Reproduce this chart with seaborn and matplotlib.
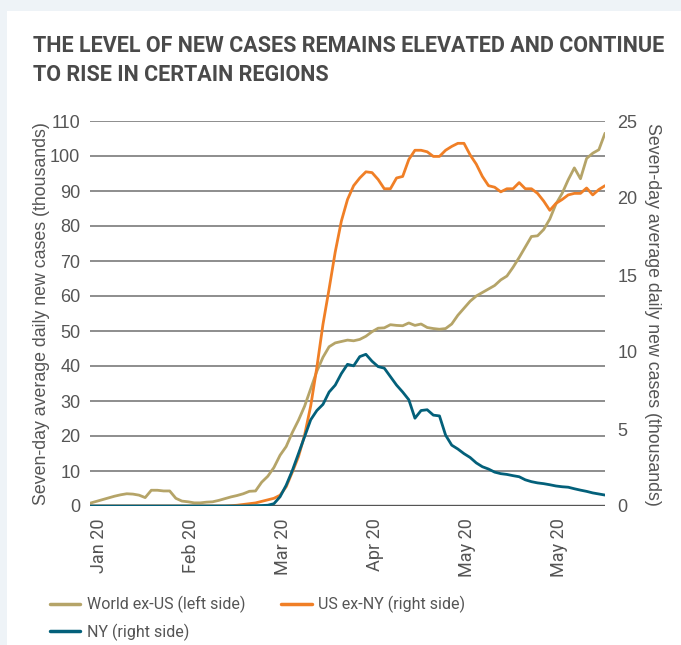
import matplotlib

matplotlib.use("Agg")
import matplotlib.pyplot as plt
import matplotlib.patches as mpatches
from matplotlib.lines import Line2D
import pandas as pd
import seaborn as sns

######Data (every second day)
dates = pd.date_range("2019-12-30", "2020-06-15", freq="2D")

# left axis, thousands
world_ex_us = [
    0.8, 1.3, 1.8, 2.3, 2.8, 3.2, 3.5, 3.4, 3.1, 2.4,
    4.5, 4.5, 4.3, 4.3, 2.2, 1.4, 1.2, 0.9, 0.9, 1.1,
    1.2, 1.6, 2.1, 2.6, 3.0, 3.5, 4.2, 4.3, 6.8, 8.5,
    11.0, 14.5, 17.0, 21.0, 24.5, 28.5, 33.5, 38.5, 42.5, 45.5,
    46.6, 47.0, 47.4, 47.2, 47.6, 48.5, 49.8, 50.8, 50.9, 51.8,
    51.6, 51.5, 52.3, 51.6, 52.0, 51.0, 50.7, 50.5, 50.7, 52.0,
    54.5, 56.5, 58.5, 60.0, 61.0, 62.0, 63.0, 64.6, 65.7, 68.2,
    71.0, 74.0, 77.0, 77.2, 79.0, 82.0, 86.3, 89.3, 93.2, 96.6,
    93.5, 99.3, 100.8, 101.8, 106.5,
]

# right axis, thousands
us_ex_ny = [
    0, 0, 0, 0, 0, 0, 0, 0, 0, 0,
    0, 0, 0, 0, 0, 0, 0, 0, 0, 0,
    0, 0, 0, 0.02, 0.05, 0.1, 0.15, 0.2, 0.3, 0.4,
    0.5, 0.7, 1.25, 2.2, 3.2, 4.6, 6.5, 9.0, 11.8, 14.1,
    16.5, 18.5, 19.9, 20.8, 21.3, 21.7, 21.65, 21.2, 20.6, 20.6,
    21.3, 21.4, 22.5, 23.1, 23.1, 23.0, 22.7, 22.7, 23.1, 23.35,
    23.55, 23.55, 22.8, 22.2, 21.4, 20.8, 20.7, 20.4, 20.6, 20.6,
    21.0, 20.6, 20.6, 20.3, 19.8, 19.2, 19.65, 19.9, 20.2, 20.3,
    20.3, 20.65, 20.2, 20.55, 20.8,
]

ny = [
    0, 0, 0, 0, 0, 0, 0, 0, 0, 0,
    0, 0, 0, 0, 0, 0, 0, 0, 0, 0,
    0, 0, 0, 0, 0, 0, 0.01, 0.02, 0.03, 0.05,
    0.15, 0.6, 1.35, 2.3, 3.4, 4.5, 5.6, 6.2, 6.6, 7.4,
    7.85, 8.6, 9.2, 9.1, 9.7, 9.85, 9.4, 9.05, 8.95, 8.4,
    7.85, 7.4, 6.9, 5.7, 6.2, 6.25, 5.9, 5.85, 4.6, 3.95,
    3.7, 3.4, 3.15, 2.8, 2.55, 2.4, 2.2, 2.1, 2.05, 1.97,
    1.9, 1.7, 1.58, 1.5, 1.45, 1.38, 1.3, 1.25, 1.22, 1.12,
    1.03, 0.95, 0.85, 0.78, 0.71,
]

tick_dates = pd.to_datetime(
    ["2020-01-02", "2020-02-01", "2020-03-02", "2020-04-01", "2020-05-01", "2020-05-31"]
)
tick_labels = ["Jan 20", "Feb 20", "Mar 20", "Apr 20", "May 20", "May 20"]

series_names = ["World ex-US (left side)", "US ex-NY (right side)", "NY (right side)"]
colors = {"world": "#b5a468", "us": "#f07f26", "ny": "#03607a"}

df = pd.DataFrame({"date": dates, "world": world_ex_us, "us": us_ex_ny, "ny": ny})

######Style
sns.set_theme(style="white")
narrow = ["Roboto", "DejaVu Sans"]
regular = ["Liberation Sans", "DejaVu Sans"]
plt.rcParams["font.family"] = regular
text_col = "#555555"

fig = plt.figure(figsize=(6.81, 6.45), dpi=100)
fig.patch.set_facecolor("#eef3f7")
fig.patches.append(
    mpatches.Rectangle(
        (7 / 681, 0), 1, 1 - 11 / 645,
        transform=fig.transFigure, facecolor="white", edgecolor="none", zorder=-10,
    )
)

ax = fig.add_axes([90 / 681, 1 - 506 / 645, 515 / 681, 385 / 645])
ax.set_facecolor("none")
ax2 = ax.twinx()

sns.lineplot(data=df, x="date", y="world", ax=ax, color=colors["world"], lw=2)
sns.lineplot(data=df, x="date", y="us", ax=ax2, color=colors["us"], lw=2)
sns.lineplot(data=df, x="date", y="ny", ax=ax2, color=colors["ny"], lw=2)

ax.set_xlim(dates[0], dates[-1])
ax.set_ylim(0, 110)
ax.set_yticks(range(0, 111, 10))
ax2.set_ylim(0, 25)
ax2.set_yticks(range(0, 26, 5))

ax.yaxis.grid(True, color="#858585", lw=1.3)
ax.set_axisbelow(True)
ax.axhline(0, color="#555555", lw=1.7, zorder=1)

for a in (ax, ax2):
    for s in a.spines.values():
        s.set_visible(False)
    a.set_xlabel("")
    a.set_ylabel("")

ax.set_xticks(tick_dates)
ax.set_xticklabels(tick_labels, rotation=90, family=narrow, fontsize=13, color=text_col)
ax.tick_params(axis="x", length=0, pad=9)
ax.tick_params(axis="y", length=0, pad=7, labelsize=13, labelcolor=text_col)
ax2.tick_params(axis="y", length=0, pad=9, labelsize=13, labelcolor=text_col)

ylab = "Seven-day average daily new cases (thousands)"
fig.text(42 / 681, 1 - 314 / 645, ylab, rotation=90, ha="center", va="center",
         fontsize=12.8, color=text_col)
fig.text(652 / 681, 1 - 314 / 645, ylab, rotation=270, ha="center", va="center",
         fontsize=12.8, color=text_col)

fig.text(33 / 681, 1 - 35 / 645,
         "THE LEVEL OF NEW CASES REMAINS ELEVATED AND CONTINUE\nTO RISE IN CERTAIN REGIONS",
         ha="left", va="top", fontsize=15.5, fontweight="bold", family=narrow,
         color="#4a4a4a", linespacing=1.42)

handles = [
    Line2D([], [], color=colors["world"], lw=2.5),
    Line2D([], [], color=colors["ny"], lw=2.5),
    Line2D([], [], color=colors["us"], lw=2.5),
]
labels = [series_names[0], series_names[2], series_names[1]]
fig.legend(handles, labels, loc="upper left", bbox_to_anchor=(50 / 681, 1 - 596 / 645),
           ncol=2, frameon=False, prop={"family": narrow, "size": 11.5},
           labelcolor=text_col, handlelength=1.9, handletextpad=0.4,
           columnspacing=2.25, labelspacing=0.65, borderaxespad=0, borderpad=0)

fig.savefig("out.png", dpi=100, facecolor=fig.get_facecolor())
plt.close(fig)
